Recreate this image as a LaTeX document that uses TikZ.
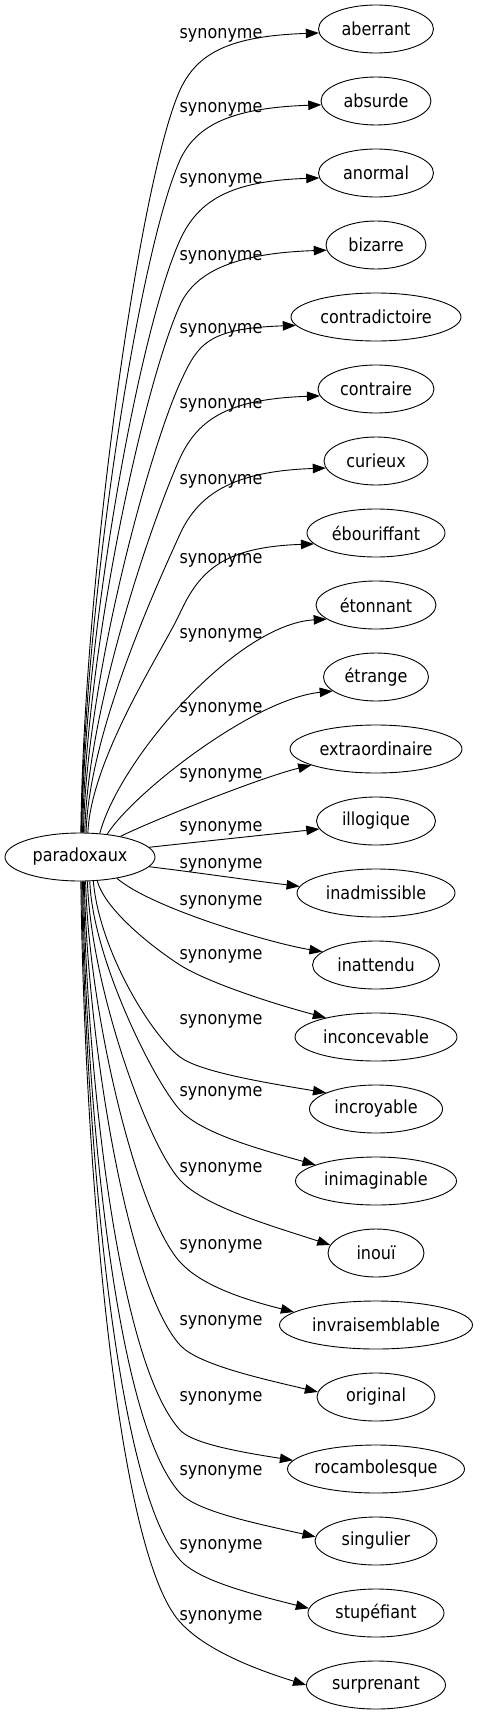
\documentclass[tikz,border=0pt]{standalone}
\usepackage{fontspec}
\setmainfont{DejaVu Sans}[FakeStretch=0.89]
\usetikzlibrary{arrows.meta,shapes.geometric}
\tikzset{
  syn/.style={ellipse, draw, line width=0.9pt, minimum height=48pt, inner sep=0pt, font=\fontsize{18}{22}\selectfont},
  lbl/.style={anchor=base, inner sep=0pt, font=\fontsize{18}{22}\selectfont},
  edge/.style={line width=0.9pt, -{Triangle[length=13pt,width=9.5pt]}},
}
\newcommand\synup[5]{%
  \pgfmathsetmacro\sSpan{833-#4}%
  \pgfmathsetmacro\sA{-0.34*\sSpan}%
  \pgfmathsetmacro\sB{min(100,0.17*\sSpan)}%
  \pgfmathsetmacro\sBx{-0.41*\sB}%
  \pgfmathsetmacro\sBy{0.91*\sB}%
  \pgfmathsetmacro\sCx{0.29*#5}%
  \pgfmathsetmacro\sCy{-0.63*#5}%
  \draw[edge] (p.#2) .. controls +(3,\sA) and +(\sBx,\sBy) .. (180,#4) .. controls +(\sCx,\sCy) and +(-89,3) .. (#1.#3);
}
\newcommand\syndown[5]{%
  \pgfmathsetmacro\sSpan{#4-881}%
  \pgfmathsetmacro\sA{0.34*\sSpan}%
  \pgfmathsetmacro\sB{min(100,0.17*\sSpan)}%
  \pgfmathsetmacro\sBx{-0.67*\sB}%
  \pgfmathsetmacro\sBy{-0.74*\sB}%
  \pgfmathsetmacro\sCx{0.67*0.55*#5}%
  \pgfmathsetmacro\sCy{0.74*0.55*#5}%
  \pgfmathsetmacro\sDy{-0.3*#5}%
  \draw[edge] (p.#2) .. controls +(3,\sA) and +(\sBx,\sBy) .. (180,#4) .. controls +(\sCx,\sCy) and +(-60,\sDy) .. (#1.#3);
}
\begin{document}
\begin{tikzpicture}[x=1pt,y=-1pt]
\useasboundingbox (0,0) rectangle (479,1715);
\node[syn, minimum width=150pt] (p) at (80,857) {paradoxaux};
\node[syn, minimum width=115pt] (aberrant) at (376,29) {aberrant};
\node[syn, minimum width=110pt] (absurde) at (376,101) {absurde};
\node[syn, minimum width=115pt] (anormal) at (376,173) {anormal};
\node[syn, minimum width=100pt] (bizarre) at (376,245) {bizarre};
\node[syn, minimum width=170pt] (contradictoire) at (376,317) {contradictoire};
\node[syn, minimum width=116pt] (contraire) at (376,389) {contraire};
\node[syn, minimum width=104pt] (curieux) at (376,461) {curieux};
\node[syn, minimum width=138pt] (ebouriffant) at (376,533) {ébouriffant};
\node[syn, minimum width=120pt] (etonnant) at (376,605) {étonnant};
\node[syn, minimum width=105pt] (etrange) at (376,677) {étrange};
\node[syn, minimum width=172pt] (extraordinaire) at (376,749) {extraordinaire};
\node[syn, minimum width=119pt] (illogique) at (376,821) {illogique};
\node[syn, minimum width=158pt] (inadmissible) at (376,893) {inadmissible};
\node[syn, minimum width=127pt] (inattendu) at (376,965) {inattendu};
\node[syn, minimum width=162pt] (inconcevable) at (376,1037) {inconcevable};
\node[syn, minimum width=133pt] (incroyable) at (376,1109) {incroyable};
\node[syn, minimum width=161pt] (inimaginable) at (376,1181) {inimaginable};
\node[syn, minimum width=96pt] (inoui) at (376,1253) {inouï};
\node[syn, minimum width=193pt] (invraisemblable) at (376,1325) {invraisemblable};
\node[syn, minimum width=118pt] (original) at (376,1397) {original};
\node[syn, minimum width=177pt] (rocambolesque) at (376,1469) {rocambolesque};
\node[syn, minimum width=122pt] (singulier) at (376,1541) {singulier};
\node[syn, minimum width=136pt] (stupefiant) at (376,1613) {stupéfiant};
\node[syn, minimum width=139pt] (surprenant) at (376,1685) {surprenant};
\synup{aberrant}{88}{184}{90}{59}
\synup{absurde}{87}{184}{160}{56}
\synup{anormal}{86}{185}{240}{63}
\synup{bizarre}{84}{186}{305}{55}
\synup{contradictoire}{82}{186}{383}{62}
\synup{contraire}{79}{187}{458}{64}
\synup{curieux}{76}{188}{534}{67}
\synup{ebouriffant}{72}{190}{613}{69}
\draw[edge] (p.50) .. controls +(20,-75) and +(-90,5) .. (etonnant.196);
\draw[edge] (p.40) .. controls +(25,-40) and +(-80,8) .. (etrange.198);
\draw[edge] (p.27) .. controls +(30,-15) and +(-50,12) .. (extraordinaire.194);
\draw[edge] (p.8) .. controls +(55,-6) and +(-55,6) .. (illogique.188);
\draw[edge] (p.352) .. controls +(50,6) and +(-50,-6) .. (inadmissible.175);
\draw[edge] (p.330) .. controls +(35,30) and +(-50,-8) .. (inattendu.166);
\draw[edge] (p.306) .. controls +(8,30) and +(-25,-16) .. (180,965) .. controls +(25,16) and +(-60,-16) .. (inconcevable.159);
\draw[edge] (p.299) .. controls +(6,70) and +(-28,-21) .. (180,1057) .. controls +(20,15) and +(-60,-10) .. (incroyable.162);
\syndown{inimaginable}{292}{165}{1110}{55}
\syndown{inoui}{287}{170}{1180}{65}
\syndown{invraisemblable}{283}{171}{1262}{50}
\syndown{original}{280}{175}{1345}{47}
\syndown{rocambolesque}{278}{174}{1430}{31}
\syndown{singulier}{276}{176}{1493}{45}
\syndown{stupefiant}{274}{176}{1560}{50}
\syndown{surprenant}{272}{180}{1622}{62}
\node[lbl] (l0) at (221,39) {synonyme};
\node[lbl] (l1) at (221,113) {synonyme};
\node[lbl] (l2) at (221,184) {synonyme};
\node[lbl] (l3) at (221,260) {synonyme};
\node[lbl] (l4) at (221,333) {synonyme};
\node[lbl] (l5) at (221,408) {synonyme};
\node[lbl] (l6) at (221,484) {synonyme};
\node[lbl] (l7) at (221,563) {synonyme};
\node[lbl] (l8) at (221,638) {synonyme};
\node[lbl] (l9) at (221,712) {synonyme};
\node[lbl] (l10) at (221,778) {synonyme};
\node[lbl] (l11) at (221,831) {synonyme};
\node[lbl] (l12) at (221,868) {synonyme};
\node[lbl] (l13) at (221,905) {synonyme};
\node[lbl] (l14) at (221,959) {synonyme};
\node[lbl] (l15) at (221,1024) {synonyme};
\node[lbl] (l16) at (221,1096) {synonyme};
\node[lbl] (l17) at (221,1172) {synonyme};
\node[lbl] (l18) at (221,1249) {synonyme};
\node[lbl] (l19) at (221,1325) {synonyme};
\node[lbl] (l20) at (221,1401) {synonyme};
\node[lbl] (l21) at (221,1475) {synonyme};
\node[lbl] (l22) at (221,1549) {synonyme};
\node[lbl] (l23) at (221,1620) {synonyme};
\end{tikzpicture}
\end{document}
